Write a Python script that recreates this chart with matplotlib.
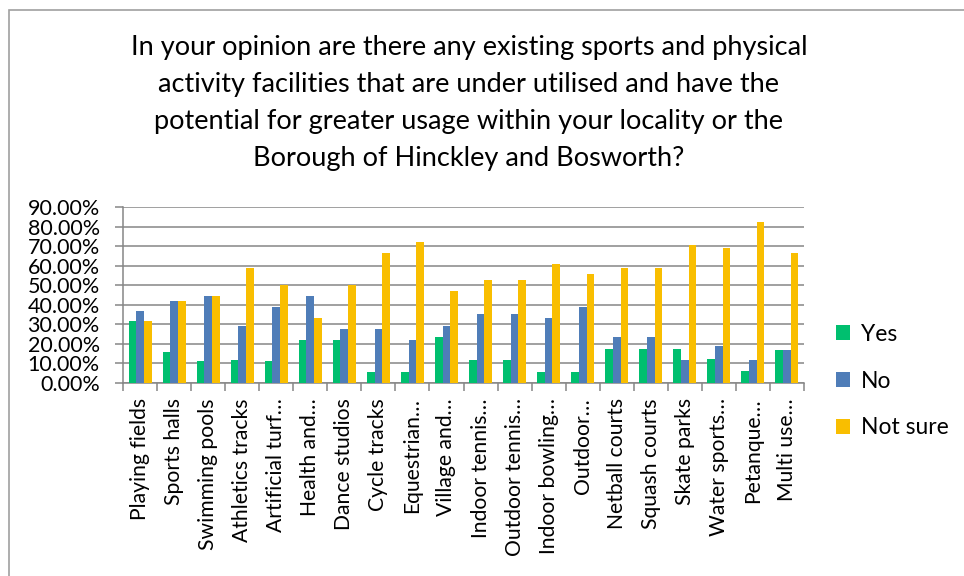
import matplotlib
matplotlib.use('Agg')
import matplotlib.pyplot as plt
import numpy as np
from matplotlib.patches import Rectangle
from matplotlib.ticker import FuncFormatter, MultipleLocator

plt.rcParams['font.family'] = ['Lato', 'DejaVu Sans']

categories = [
    'Playing fields', 'Sports halls', 'Swimming pools', 'Athletics tracks',
    'Artificial turf…', 'Health and…', 'Dance studios', 'Cycle tracks',
    'Equestrian…', 'Village and…', 'Indoor tennis…', 'Outdoor tennis…',
    'Indoor bowling…', 'Outdoor…', 'Netball courts', 'Squash courts',
    'Skate parks', 'Water sports…', 'Petanque…', 'Multi use…',
]
yes = [31.6, 15.8, 11.1, 11.8, 11.1, 22.2, 22.2, 5.6, 5.6, 23.5,
       11.8, 11.8, 5.6, 5.6, 17.6, 17.6, 17.6, 12.5, 5.9, 16.7]
no = [36.8, 42.1, 44.4, 29.4, 38.9, 44.4, 27.8, 27.8, 22.2, 29.4,
      35.3, 35.3, 33.3, 38.9, 23.5, 23.5, 11.8, 18.8, 11.8, 16.7]
not_sure = [31.6, 42.1, 44.4, 58.8, 50.0, 33.3, 50.0, 66.7, 72.2, 47.1,
            52.9, 52.9, 61.1, 55.6, 58.8, 58.8, 70.6, 68.8, 82.4, 66.7]
series = [('Yes', yes, '#00BF6F'), ('No', no, '#4F7DB8'), ('Not sure', not_sure, '#F9BE00')]

title = ('In your opinion are there any existing sports and physical\n'
         'activity facilities that are under utilised and have the\n'
         'potential for greater usage within your locality or the\n'
         'Borough of Hinckley and Bosworth?')

fig = plt.figure(figsize=(9.64, 5.76), dpi=100)
ax = fig.add_axes([123 / 964, 1 - 383 / 576, 681 / 964, 176 / 576])

x = np.arange(len(categories))
w = 0.225
for i, (name, vals, col) in enumerate(series):
    ax.bar(x + (i - 1) * w, vals, width=w, color=col, label=name, zorder=3)

ax.set_xlim(-0.5, len(categories) - 0.5)
ax.set_ylim(0, 90)
ax.yaxis.set_major_locator(MultipleLocator(10))
ax.yaxis.set_major_formatter(FuncFormatter(lambda v, p: f'{v:.2f}%'))
ax.grid(axis='y', color='#868686', linewidth=1.1, zorder=0)

# category boundaries get the tick marks, names sit in between
ax.set_xticks(np.arange(len(categories) + 1) - 0.5)
ax.set_xticklabels([])
ax.set_xticks(x, minor=True)
ax.set_xticklabels(categories, minor=True, rotation=90, fontsize=15.2, va='top')
ax.tick_params(axis='x', which='minor', length=0, pad=11)
ax.tick_params(axis='x', which='major', length=5.8, width=1.1, color='#868686')
ax.tick_params(axis='y', length=5.8, width=1.1, color='#868686', labelsize=15.5, pad=11)

for s in ['top', 'right']:
    ax.spines[s].set_visible(False)
for s in ['left', 'bottom']:
    ax.spines[s].set_color('#868686')
    ax.spines[s].set_linewidth(1.1)

handles, labels = ax.get_legend_handles_labels()
fig.legend(handles, labels, loc='center left', bbox_to_anchor=(836 / 964, 1 - 381 / 576),
           frameon=False, fontsize=16.5, handlelength=0.62, handleheight=0.62,
           handletextpad=0.45, labelspacing=1.12, borderpad=0, borderaxespad=0)

fig.text(469 / 964, 1 - 103 / 576, title, ha='center', va='center',
         fontsize=19.5, linespacing=1.6)

fig.add_artist(Rectangle((9 / 964, -0.1), 1.2, 1 - 10 / 576 + 0.1, transform=fig.transFigure,
                         fill=False, edgecolor='#A0A0A0', linewidth=1.2))

fig.savefig('out.png', dpi=100)
